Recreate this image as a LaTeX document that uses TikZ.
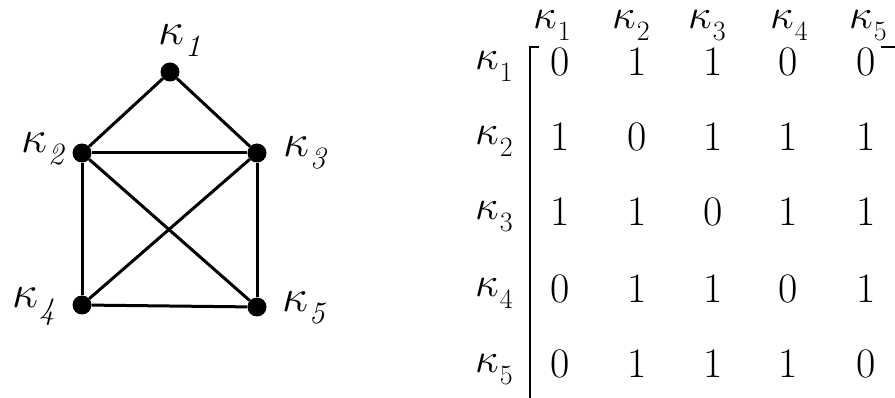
\RequirePackage{fix-cm}
\documentclass[tikz,border=0pt]{standalone}
\newcommand\gk[1]{\fontsize{46}{46}\selectfont$\kappa$\hspace{1pt}\raisebox{-12pt}{\fontsize{31}{31}\selectfont\itshape #1}}
\newcommand\mk[1]{\fontsize{42}{42}\selectfont$\kappa$\hspace{1pt}\raisebox{-12pt}{\fontsize{28}{28}\selectfont #1}}
\tikzset{
  vtx/.style={circle, fill=black, minimum size=19pt, inner sep=0pt},
  edge/.style={line width=3pt},
  lbl/.style={anchor=base west, inner sep=0pt},
  entry/.style={inner sep=0pt, font=\fontsize{42}{42}\selectfont},
  brk/.style={line width=1.8pt}
}
\begin{document}
\begin{tikzpicture}[x=1pt,y=-1pt]
\useasboundingbox (0,0) rectangle (895,398);
% graph
\node[vtx] (k1) at (170,72) {};
\node[vtx] (k2) at (82,153) {};
\node[vtx] (k3) at (257,153) {};
\node[vtx] (k4) at (82,305) {};
\node[vtx] (k5) at (257,307) {};
\foreach \a/\b in {k1/k2,k1/k3,k2/k3,k2/k4,k2/k5,k3/k4,k3/k5,k4/k5}
  \draw[edge] (\a) -- (\b);
\node[lbl] (l1) at (158,45) {\gk{1}};
\node[lbl] (l2) at (21,153) {\gk{2}};
\node[lbl] (l3) at (283,157) {\gk{3}};
\node[lbl] (l4) at (12,308) {\gk{4}};
\node[lbl] (l5) at (282,312) {\gk{5}};
% matrix headers
\foreach \i/\x in {1/533,2/612,3/688,4/770,5/849}
  \node[lbl] (h\i) at (\x,29) {\mk{\i}};
% row labels
\foreach \i/\y in {1/62,2/137,3/212,4/289,5/364}
  \node[lbl] (r\i) at (475,\y+8) {\mk{\i}};
% entries
\foreach \r/\y/\vals in {1/62/{0,1,1,0,0},2/137/{1,0,1,1,1},3/212/{1,1,0,1,1},4/289/{0,1,1,0,1},5/364/{0,1,1,1,0}}{
  \foreach \v [count=\c] in \vals {
    \pgfmathsetmacro{\xx}{{560,637,713,788,866}[\c-1]}
    \node[entry] (m\r\c) at (\xx,\y) {\v};
  }
}
% brackets
\draw[brk] (539,47) -- (530,47) -- (530,398);
\draw[brk] (881,47) -- (895,47);
\end{tikzpicture}
\end{document}
